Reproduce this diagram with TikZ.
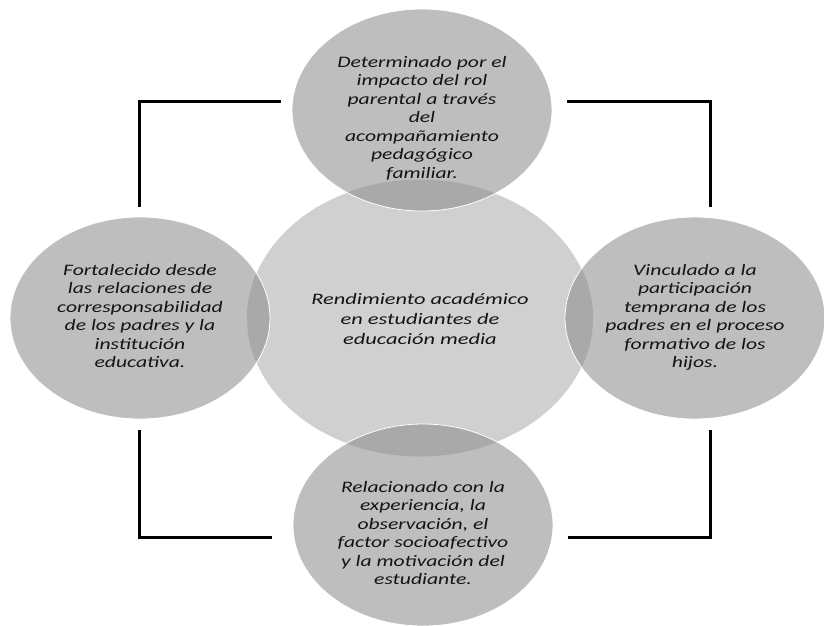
\documentclass[tikz,border=0pt]{standalone}
\usepackage{fontspec}
\setmainfont{Carlito}
\usetikzlibrary{shapes.geometric}
\definecolor{satfill}{HTML}{BEBEBE}
\definecolor{cenfill}{HTML}{D0D0D0}
\definecolor{lensfill}{HTML}{A9A9A9}
\definecolor{txt}{HTML}{141414}
\newcommand{\lbl}[2][1.35]{\scalebox{#1}[1]{\fontsize{16}{18.5}\selectfont\itshape\begin{tabular}{@{}c@{}}#2\end{tabular}}}
\newcommand{\lowered}[2]{\raisebox{-#1}[\height][\depth]{#2}}
\begin{document}
\begin{tikzpicture}[x=1pt,y=-1pt,
  hub/.style={ellipse, fill=cenfill, draw=white, line width=0.6pt,
    minimum width=346pt, minimum height=277pt, inner sep=0pt, text=txt},
  bubble/.style={ellipse, fill=satfill, draw=white, line width=0.8pt,
    minimum width=260pt, minimum height=202pt, inner sep=0pt, text=txt,
    path picture={\fill[lensfill] (C.center) ellipse [x radius=173pt, y radius=138.5pt];}},
  link/.style={draw=black, line width=3pt}]
\useasboundingbox (0,0) rectangle (824,625);
\node[hub] (C) at (420,318) {\lowered{3pt}{\lbl[1.4]{Rendimiento académico\\[1.5pt]en estudiantes de\\[1.5pt]educación media}}};
\node[bubble] (T) at (422,110) {\lowered{9pt}{\lbl{Determinado por el\\impacto del rol\\parental a través\\del\\acompañamiento\\pedagógico\\familiar.}}};
\node[bubble] (B) at (423,525) {\lowered{10pt}{\lbl{Relacionado con la\\experiencia, la\\observación, el\\factor socioafectivo\\y la motivación del\\estudiante.}}};
\node[bubble] (L) at (140,318) {\lbl{Fortalecido desde\\las relaciones de\\corresponsabilidad\\de los padres y la\\institución\\educativa.}};
\node[bubble] (R) at (695,318) {\lbl{Vinculado a la\\participación\\temprana de los\\padres en el proceso\\formativo de los\\hijos.}};
\coordinate (tl1) at (139,207); \coordinate (tl2) at (281,101);
\coordinate (tr1) at (567,101); \coordinate (tr2) at (710,207);
\coordinate (bl1) at (139,430); \coordinate (bl2) at (272,537);
\coordinate (br1) at (568,537); \coordinate (br2) at (710,430);
\draw[link] (tl1) |- (tl2);
\draw[link] (tr1) -| (tr2);
\draw[link] (bl1) |- (bl2);
\draw[link] (br1) -| (br2);
\end{tikzpicture}
\end{document}
